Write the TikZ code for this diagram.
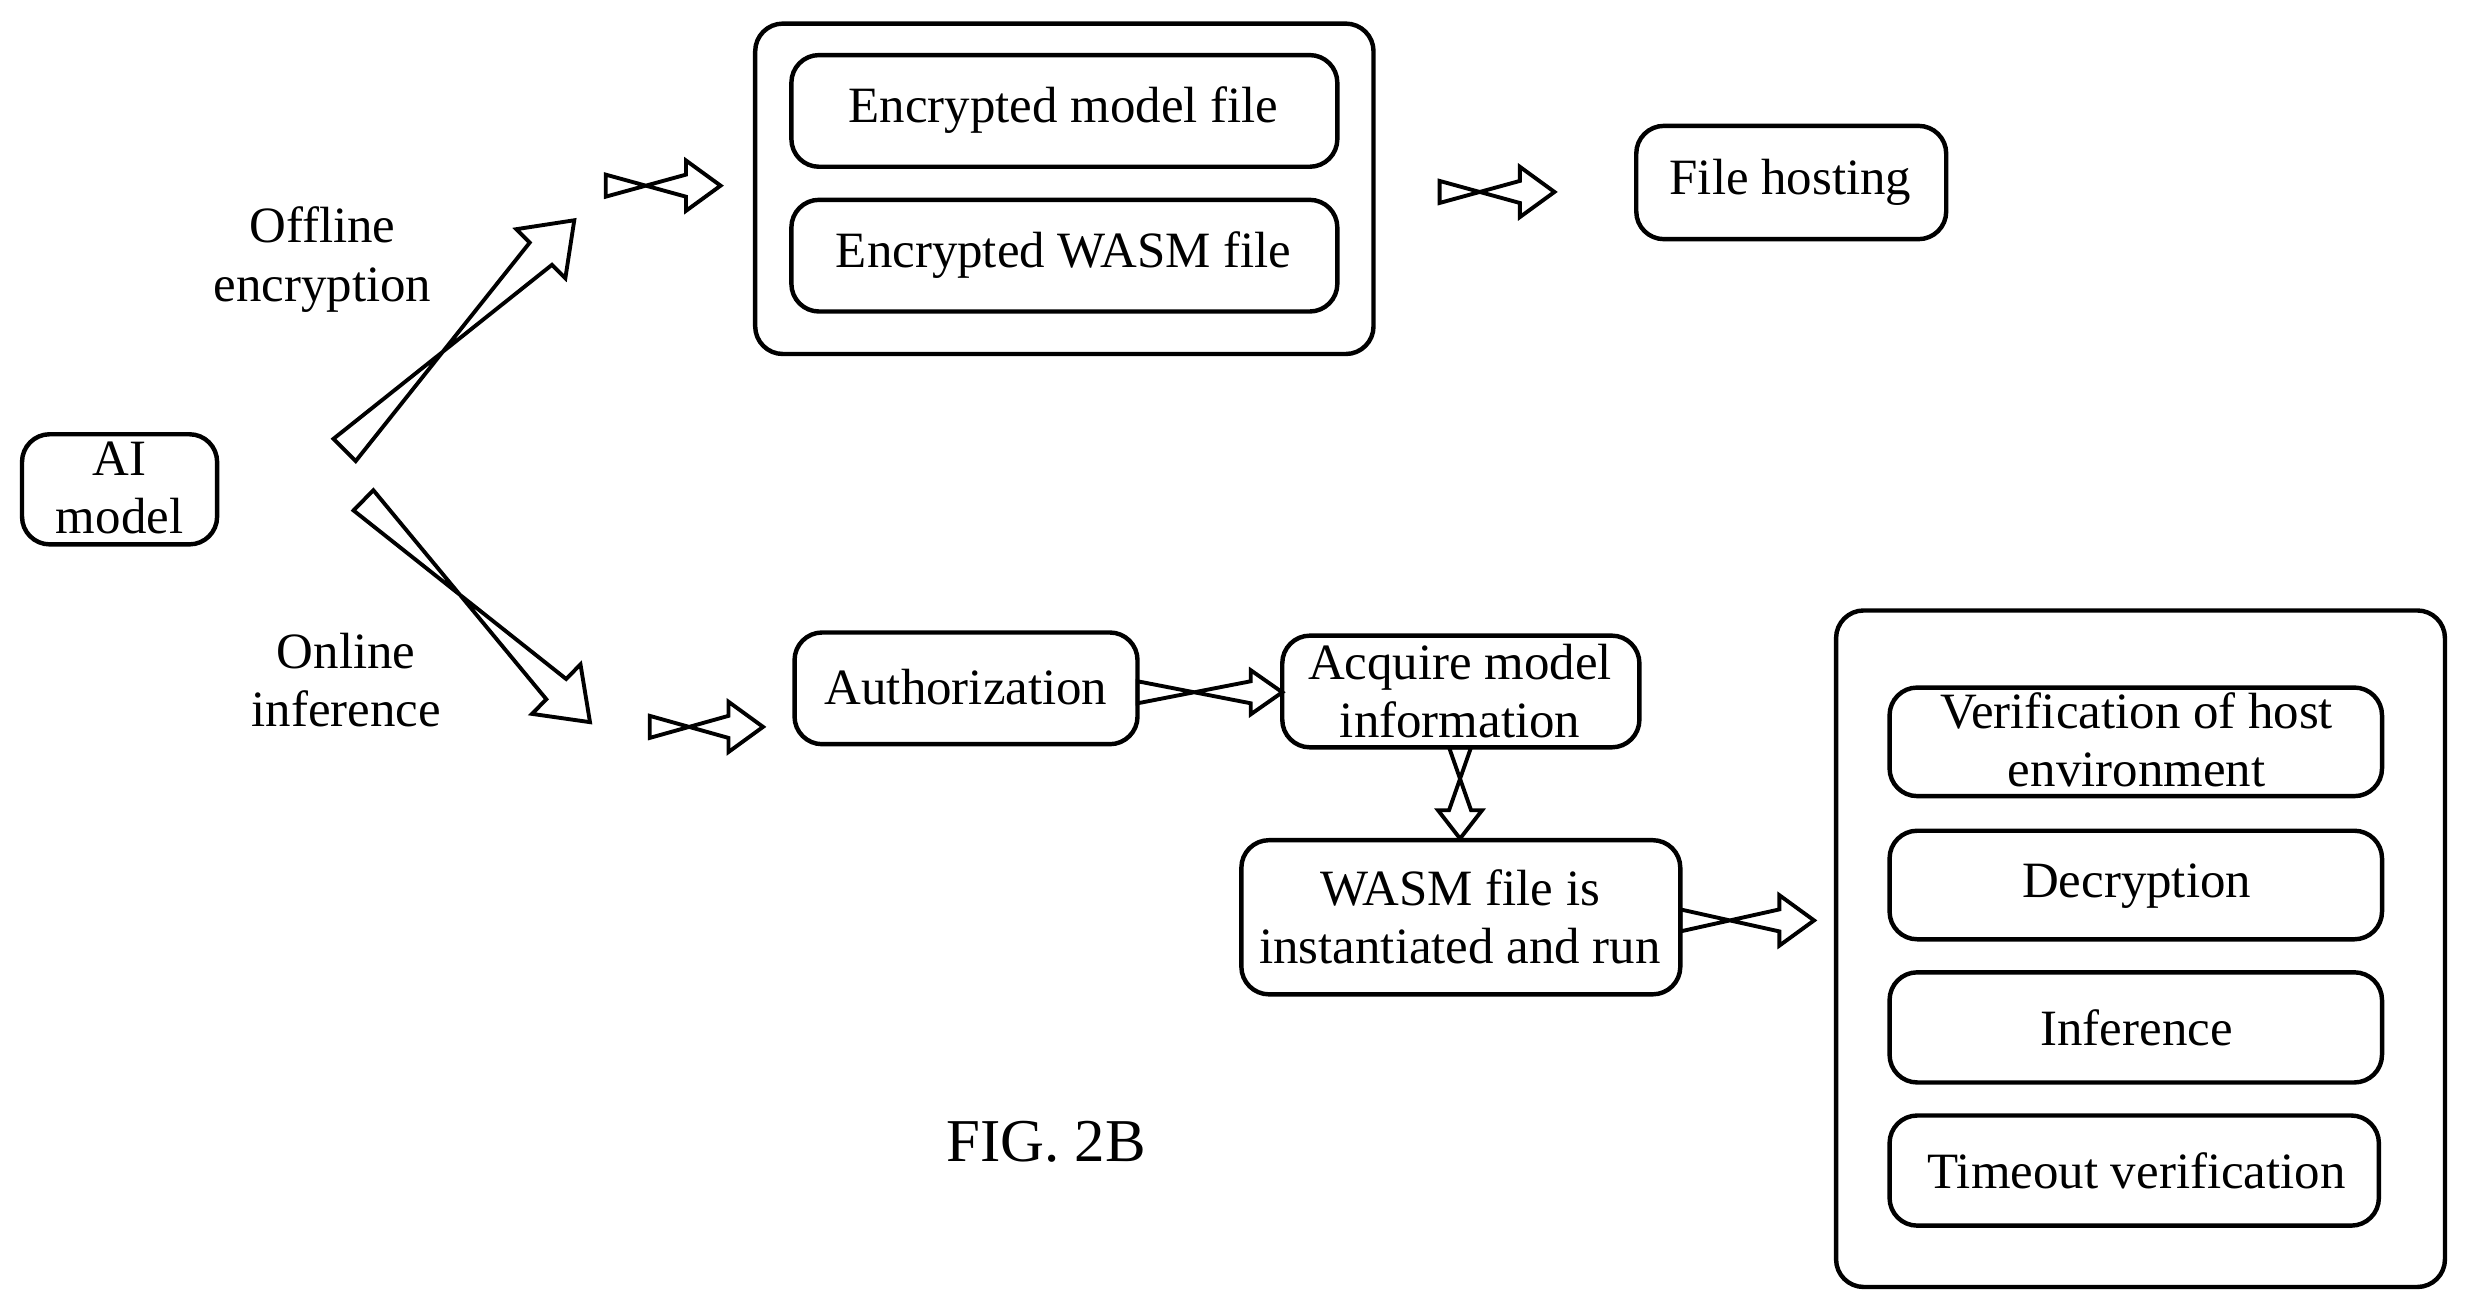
\documentclass[tikz,border=0pt]{standalone}
\usepackage{fontspec}
\setmainfont{Liberation Serif}
\usetikzlibrary{calc}
\newcommand\holarrow[5]{% start, end, shaft half, head half, head length
 \draw[line width=0.7pt] ($(#1)!#3!-90:(#2)$) -- ($($(#2)!#5!(#1)$)!#3!90:(#2)$) -- ($($(#2)!#5!(#1)$)!#4!90:(#2)$) -- (#2) -- ($($(#2)!#5!(#1)$)!#4!-90:(#2)$) -- ($($(#2)!#5!(#1)$)!#3!-90:(#2)$) -- ($(#1)!#3!90:(#2)$) -- cycle;}
\begin{document}
\begin{tikzpicture}[x=0.01cm,y=-0.01cm,
 box/.style={draw,line width=0.8pt,rounded corners=5pt},
 txt/.style={font=\fontsize{9.2pt}{10.5pt}\selectfont,align=center}]
\useasboundingbox (0,0) rectangle (1568,833);
\draw[box] (14,276) rectangle (138,346); \node[txt] (ai) at (76,310) {AI\\model};
\draw[box] (480,15) rectangle (873,225);
\draw[box] (503,35) rectangle (850,106); \node[txt] (emf) at (676,70) {Encrypted model file};
\draw[box] (503,127) rectangle (850,198); \node[txt] (ewf) at (676,162) {Encrypted WASM file};
\draw[box] (1040,80) rectangle (1237,152); \node[txt] (fh) at (1138,116) {File hosting};
\draw[box] (505,402) rectangle (723,473); \node[txt] (auth) at (614,437) {Authorization};
\draw[box] (815,404) rectangle (1042,475); \node[txt] (acq) at (928,439) {Acquire model\\information};
\draw[box] (789,534) rectangle (1068,632); \node[txt] (wasm) at (928,583) {WASM file is\\instantiated and run};
\draw[box] (1167,388) rectangle (1554,818);
\draw[box] (1201,437) rectangle (1514,506); \node[txt] (ver) at (1358,470) {Verification of host\\environment};
\draw[box] (1201,528) rectangle (1514,597); \node[txt] (dec) at (1358,563) {Decryption};
\draw[box] (1201,618) rectangle (1514,688); \node[txt] (inf) at (1358,653) {Inference};
\draw[box] (1201,709) rectangle (1512,779); \node[txt] (to) at (1358,744) {Timeout verification};
\node[txt] (off) at (205,165) {Offline\\encryption};
\node[txt] (on) at (220,432) {Online\\inference};
\node[font=\fontsize{11pt}{12pt}\selectfont] (fig) at (665,726) {FIG. 2B};
\coordinate (d1s) at (219,286); \coordinate (d1e) at (365,140);
\coordinate (d2s) at (231,318); \coordinate (d2e) at (375,459);
\coordinate (a1s) at (385,118); \coordinate (a1e) at (458,118);
\coordinate (a2s) at (915,122); \coordinate (a2e) at (988,122);
\coordinate (a3s) at (413,462); \coordinate (a3e) at (485,462);
\coordinate (a4s) at (723,440); \coordinate (a4e) at (815,440);
\coordinate (a5s) at (1068,585); \coordinate (a5e) at (1153,585);
\coordinate (a6s) at (928,475); \coordinate (a6e) at (928,533);
\holarrow{d1s}{d1e}{0.1cm}{0.22cm}{0.3cm}
\holarrow{d2s}{d2e}{0.09cm}{0.22cm}{0.3cm}
\holarrow{a1s}{a1e}{0.07cm}{0.16cm}{0.22cm}
\holarrow{a2s}{a2e}{0.07cm}{0.16cm}{0.22cm}
\holarrow{a3s}{a3e}{0.07cm}{0.16cm}{0.22cm}
\holarrow{a4s}{a4e}{0.07cm}{0.14cm}{0.2cm}
\holarrow{a5s}{a5e}{0.07cm}{0.16cm}{0.22cm}
\holarrow{a6s}{a6e}{0.07cm}{0.14cm}{0.18cm}
\end{tikzpicture}
\end{document}
